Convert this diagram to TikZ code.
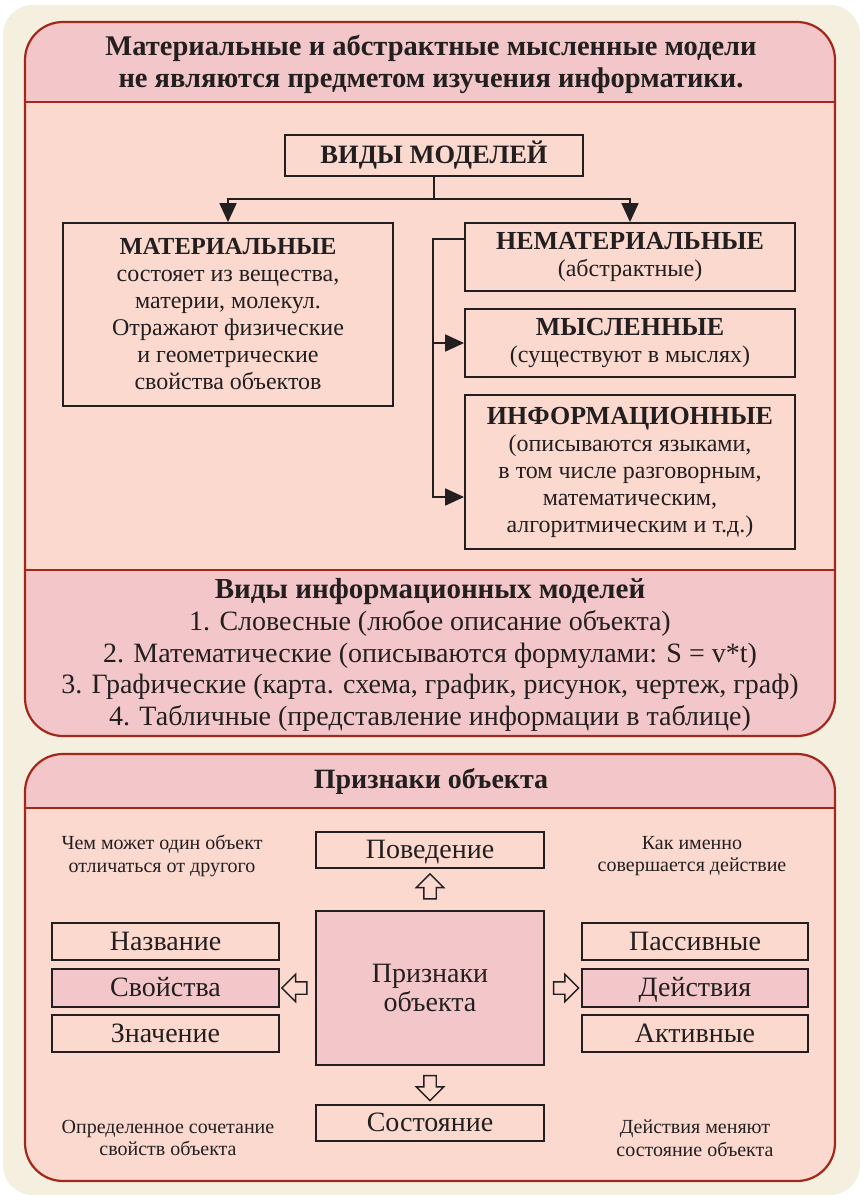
\documentclass[tikz,border=0pt]{standalone}
\usepackage{fontspec}
\setmainfont{Liberation Serif}
\usetikzlibrary{arrows.meta,shapes.arrows,calc}
\definecolor{cream}{HTML}{F5EFDF}
\definecolor{peach}{HTML}{FBD9CF}
\definecolor{rosy}{HTML}{F3C7C9}
\definecolor{wine}{HTML}{A3281C}
\definecolor{ink}{HTML}{231F20}
\begin{document}
\begin{tikzpicture}[x=1pt,y=-1pt,
  box/.style={draw=ink, line width=1.8pt, inner sep=0pt, align=center, text=ink},
  arr/.style={draw=ink, line width=1.8pt, -{Triangle[length=19pt,width=17pt]}},
  hollow/.style={single arrow, draw=ink, line width=1.4pt, fill=peach, minimum height=25pt,
     inner sep=5.5pt, single arrow head extend=7.5pt, single arrow tip angle=90},
  txt/.style={align=center, text=ink, inner sep=0pt},
  big/.style={font=\fontsize{24}{27}\selectfont},
  lbl/.style={font=\fontsize{28}{30}\selectfont, text height=21pt, text depth=4pt},
  small/.style={font=\fontsize{20}{22.5}\selectfont},
  panel/.style={draw=wine, line width=2.2pt, rounded corners=38pt}
]
\useasboundingbox (0,0) rectangle (865,1200);
\fill[white] (0,0) rectangle (865,1200);
\fill[cream, rounded corners=30pt] (3,5) rectangle (860,1195);

% panel 1
\begin{scope}
\clip[rounded corners=38pt] (25,22) rectangle (835,736);
\fill[peach] (25,22) rectangle (835,736);
\fill[rosy] (25,22) rectangle (835,102);
\fill[rosy] (25,570) rectangle (835,736);
\end{scope}
\draw[wine, line width=2pt] (25,102) -- (835,102);
\draw[wine, line width=2pt] (25,570) -- (835,570);
\draw[panel] (25,22) rectangle (835,736);

% panel 2
\begin{scope}
\clip[rounded corners=38pt] (25,754) rectangle (835,1181);
\fill[peach] (25,754) rectangle (835,1181);
\fill[rosy] (25,754) rectangle (835,808);
\end{scope}
\draw[wine, line width=2pt] (25,808) -- (835,808);
\draw[panel] (25,754) rectangle (835,1181);

% titles
\node[txt, font=\bfseries\fontsize{28.5}{32}\selectfont] (title) at (431,64)
  {Материальные и абстрактные мысленные модели\\не являются предметом изучения информатики.};
\node[txt, font=\fontsize{28}{31.8}\selectfont] (kinds) at (430,655)
  {{\bfseries\fontsize{29}{31.8}\selectfont Виды информационных моделей}\\
   1. Словесные (любое описание объекта)\\
   2. Математические (описываются формулами: S = v*t)\\
   3. Графические (карта. схема, график, рисунок, чертеж, граф)\\
   4. Табличные (представление информации в таблице)};
\node[txt, font=\bfseries\fontsize{28}{30}\selectfont] (title2) at (431,781) {Признаки объекта};

% top diagram
\node[box, font=\bfseries\fontsize{26.5}{27}\selectfont, minimum width=298pt, minimum height=41pt] (vidy) at (434,155.5) {ВИДЫ МОДЕЛЕЙ};
\node[box, big, minimum width=330pt, minimum height=183pt] (mat) at (228,314.5)
  {{\bfseries\fontsize{24.5}{27}\selectfont МАТЕРИАЛЬНЫЕ}\\состояет из вещества,\\материи, молекул.\\Отражают физические\\и геометрические\\свойства объектов};
\node[box, big, minimum width=330pt, minimum height=68pt] (nemat) at (630,257)
  {{\bfseries\fontsize{26}{27}\selectfont НЕМАТЕРИАЛЬНЫЕ}\\(абстрактные)};
\node[box, big, minimum width=330pt, minimum height=68pt] (mysl) at (630,343)
  {{\bfseries\fontsize{26}{27}\selectfont МЫСЛЕННЫЕ}\\(существуют в мыслях)};
\node[box, big, minimum width=330pt, minimum height=154pt] (info) at (630,472)
  {{\bfseries\fontsize{26}{27}\selectfont ИНФОРМАЦИОННЫЕ}\\(описываются языками,\\в том числе разговорным,\\математическим,\\алгоритмическим и т.д.)};

\draw[draw=ink, line width=1.8pt] (vidy.south) -- (vidy.south |- 0,199) coordinate (j);
\draw[arr] (j) -| (mat.north);
\draw[arr] (j) -| (nemat.north);
\coordinate (sp) at (433,0);
\draw[arr] (nemat.west |- 0,239) -| (sp |- 0,497) -- (info.west |- 0,497);
\draw[arr] (sp |- mysl.west) -- (mysl.west);

% bottom diagram
\node[box, lbl, minimum width=228pt, minimum height=36pt] (beh) at (430,850) {Поведение};
\node[box, fill=rosy, font=\fontsize{28}{29}\selectfont, minimum width=228pt, minimum height=154pt] (cent) at (430,988) {Признаки\\объекта};
\node[box, lbl, minimum width=228pt, minimum height=36pt] (state) at (430,1123) {Состояние};

\node[box, lbl, minimum width=227pt, minimum height=37pt] (name) at (165.5,941.5) {Название};
\node[box, lbl, fill=rosy, minimum width=227pt, minimum height=38pt] (prop) at (165.5,988) {Свойства};
\node[box, lbl, minimum width=227pt, minimum height=37pt] (val) at (165.5,1033.5) {Значение};

\node[box, lbl, minimum width=226pt, minimum height=37pt] (pass) at (695,941.5) {Пассивные};
\node[box, lbl, fill=rosy, minimum width=226pt, minimum height=38pt] (acts) at (695,988) {Действия};
\node[box, lbl, minimum width=226pt, minimum height=37pt] (activ) at (695,1033.5) {Активные};

\node[hollow, rotate=90] (aup) at ($(cent.north)!0.5!(beh.south)$) {};
\node[hollow, rotate=-90] (adown) at ($(cent.south)!0.5!(state.north)$) {};
\node[hollow, rotate=180] (aleft) at ($(cent.west)!0.5!(prop.east)$) {};
\node[hollow] (aright) at ($(cent.east)!0.5!(acts.west)$) {};

\node[txt, small] (q1) at (162,856) {Чем может один объект\\отличаться от другого};
\node[txt, small] (q2) at (692,856) {Как именно\\совершается действие};
\node[txt, small] (q3) at (168,1138) {Определенное сочетание\\свойств объекта};
\node[txt, small] (q4) at (695,1138) {Действия меняют\\состояние объекта};
\end{tikzpicture}
\end{document}
